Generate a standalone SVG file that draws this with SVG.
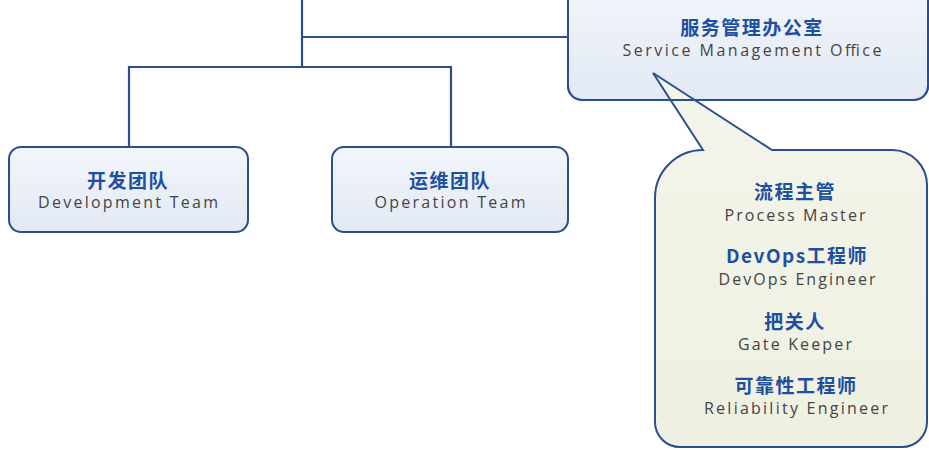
<svg xmlns="http://www.w3.org/2000/svg" width="929" height="450" viewBox="0 0 929 450">
  <defs>
    <linearGradient id="boxFill" x1="0" y1="0" x2="0" y2="1">
      <stop offset="0" stop-color="#f3f6fb"/>
      <stop offset="1" stop-color="#e2e9f4"/>
    </linearGradient>
    <linearGradient id="bubbleFill" x1="0" y1="0" x2="0" y2="1">
      <stop offset="0" stop-color="#f4f5eb"/>
      <stop offset="1" stop-color="#eef0e1"/>
    </linearGradient>
    <style>
      .box { fill: url(#boxFill); stroke: #2b4f8e; stroke-width: 2; }
      .edge { fill: none; stroke: #2b4f8e; stroke-width: 2.2; }
      .zh { font-family: "Noto Sans CJK SC", "Noto Sans", sans-serif; font-weight: 700; font-size: 19px; fill: #1f4f9f; text-anchor: middle; letter-spacing: 1.5px; }
      .en { font-family: "Open Sans", "Noto Sans", sans-serif; font-size: 16px; fill: #454545; text-anchor: middle; }
    </style>
  </defs>
  <rect width="929" height="450" fill="#ffffff"/>

  <g id="connectors">
    <path class="edge" d="M302 0 V67"/>
    <path class="edge" d="M302 37 H568"/>
    <path class="edge" d="M129 147 V67 H451 V147"/>
  </g>

  <g id="smo">
    <rect class="box" x="568" y="-20" width="360" height="120" rx="14"/>
    <text class="zh" x="752" y="35">服务管理办公室</text>
    <text class="en" x="752" y="56" textLength="259" lengthAdjust="spacing">Service Management Office</text>
  </g>

  <g id="dev-team">
    <rect class="box" x="9" y="147" width="239" height="85" rx="12"/>
    <text class="zh" x="128" y="188">开发团队</text>
    <text class="en" x="128" y="208" textLength="180" lengthAdjust="spacing">Development Team</text>
  </g>

  <g id="ops-team">
    <rect class="box" x="332" y="147" width="236" height="85" rx="12"/>
    <text class="zh" x="450" y="188">运维团队</text>
    <text class="en" x="450" y="208" textLength="151" lengthAdjust="spacing">Operation Team</text>
  </g>

  <g id="roles">
    <path d="M703 150 L653 73 L772 150 L892 150 A35 35 0 0 1 927 185 L927 422 A25 25 0 0 1 902 447 L680 447 A25 25 0 0 1 655 422 L655 198 A48 48 0 0 1 703 150 Z" fill="url(#bubbleFill)" stroke="#2b4f8e" stroke-width="2" stroke-linejoin="miter"/>
    <path d="M568 86 A14 14 0 0 0 582 100 H914 A14 14 0 0 0 928 86" fill="none" stroke="#2b4f8e" stroke-width="2"/>
    <text class="zh" x="795" y="199">流程主管</text>
    <text class="en" x="795" y="221" textLength="141" lengthAdjust="spacing">Process Master</text>
    <text class="zh" x="797" y="263">DevOps工程师</text>
    <text class="en" x="797" y="285" textLength="157" lengthAdjust="spacing">DevOps Engineer</text>
    <text class="zh" x="795" y="329">把关人</text>
    <text class="en" x="795" y="350" textLength="114" lengthAdjust="spacing">Gate Keeper</text>
    <text class="zh" x="796" y="393">可靠性工程师</text>
    <text class="en" x="796" y="414" textLength="184" lengthAdjust="spacing">Reliability Engineer</text>
  </g>
</svg>
